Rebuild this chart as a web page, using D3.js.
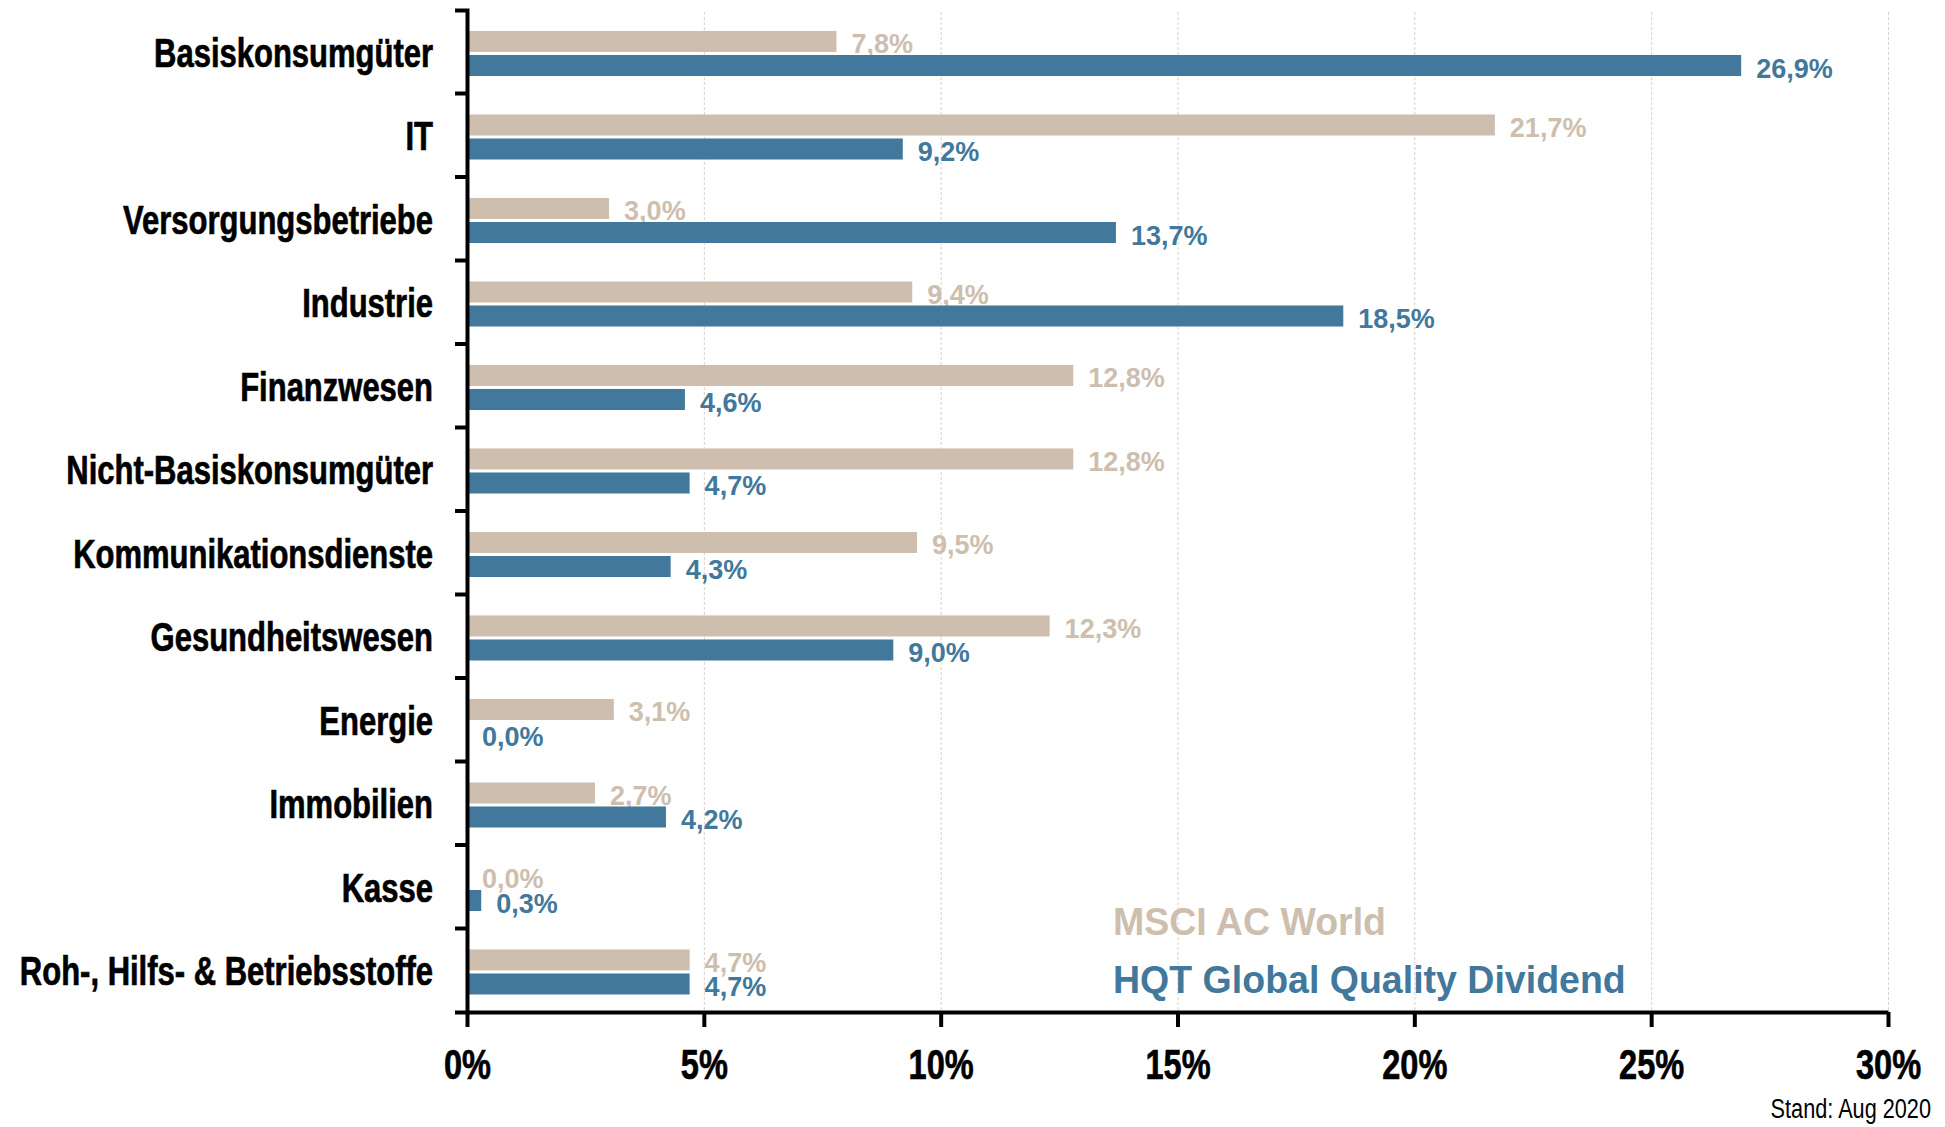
<!DOCTYPE html>
<html>
<head>
<meta charset="utf-8">
<script src="https://cdn.jsdelivr.net/npm/d3@7"></script>
<style>
    body { margin: 0; background: #fff; }
    svg { display: block; }
    text { font-family: 'Liberation Sans', Arial, sans-serif; }
</style>
</head>
<body>
<svg id="chart"></svg>
<script>
const categories = [
    'Basiskonsumgüter',
    'IT',
    'Versorgungsbetriebe',
    'Industrie',
    'Finanzwesen',
    'Nicht-Basiskonsumgüter',
    'Kommunikationsdienste',
    'Gesundheitswesen',
    'Energie',
    'Immobilien',
    'Kasse',
    'Roh-, Hilfs- & Betriebsstoffe'
];
const msciValues = [7.8, 21.7, 3.0, 9.4, 12.8, 12.8, 9.5, 12.3, 3.1, 2.7, 0.0, 4.7];
const hqtValues = [26.9, 9.2, 13.7, 18.5, 4.6, 4.7, 4.3, 9.0, 0.0, 4.2, 0.3, 4.7];
const seriesNames = ['MSCI AC World', 'HQT Global Quality Dividend'];
const xTicks = [0, 5, 10, 15, 20, 25, 30];
const footnote = 'Stand: Aug 2020';

const colors = { msci: '#cebeae', hqt: '#41789b', grid: '#dcd1c6', axis: '#000' };
const width = 1945;
const height = 1127;
const condensed = 0.775;

const svg = d3.select('#chart').attr('width', width).attr('height', height);

const x = d3.scaleLinear().domain([0, 30]).range([467, 1888]);
const y = d3.scaleBand().domain(categories).range([10, 1012]).padding(0);
const inner = d3.scaleBand().domain(['msci', 'hqt'])
    .range([0, y.bandwidth()])
    .paddingInner(0.125)
    .paddingOuter(0.8)
    .align(0.545);

const de = d3.formatLocale({ decimal: ',', thousands: '.', grouping: [3], currency: ['', '€'] });
const fmt = v => de.format('.1f')(v) + '%';

const rows = categories.map((c, i) => ({ cat: c, msci: msciValues[i], hqt: hqtValues[i] }));

// gridlines
svg.append('g')
    .selectAll('line')
    .data(xTicks.slice(1))
    .enter().append('line')
    .attr('x1', d => x(d) + 0.5)
    .attr('x2', d => x(d) + 0.5)
    .attr('y1', 12)
    .attr('y2', 1012)
    .style('stroke', colors.grid)
    .style('stroke-width', 1)
    .style('stroke-dasharray', '3,2');

// bars
['msci', 'hqt'].forEach(function (key) {
    svg.append('g')
        .selectAll('rect')
        .data(rows).enter().append('rect')
        .attr('x', x(0))
        .attr('y', d => y(d.cat) + inner(key))
        .attr('width', d => x(d[key]) - x(0))
        .attr('height', inner.bandwidth())
        .attr('fill', colors[key]);

    svg.append('g')
        .selectAll('text')
        .data(rows).enter().append('text')
        .attr('x', d => x(d[key]) + 15)
        .attr('y', d => y(d.cat) + inner(key) + inner.bandwidth() + 1.5)
        .style('font-size', '27px')
        .style('font-weight', 'bold')
        .style('fill', colors[key])
        .text(d => fmt(d[key]));
});

// y axis
const yAxis = svg.append('g')
    .attr('transform', 'translate(' + x(0) + ',0)')
    .call(d3.axisLeft(y).tickSizeInner(0).tickSizeOuter(12).tickPadding(0));

yAxis.select('.domain').style('stroke', colors.axis).style('stroke-width', 4);
yAxis.selectAll('.tick text')
    .attr('x', -34 / condensed)
    .attr('dy', '0.37em')
    .attr('transform', 'scale(' + condensed + ',1)')
    .style('font-family', "'Liberation Sans', Arial, sans-serif")
    .style('font-size', '40px')
    .style('font-weight', 'bold')
    .style('fill', '#000')
    .style('stroke', '#000')
    .style('stroke-width', 0.7);

yAxis.selectAll('.boundary')
    .data(categories.slice(1))
    .enter().append('line')
    .attr('class', 'boundary')
    .attr('x1', -12)
    .attr('x2', 0)
    .attr('y1', d => y(d))
    .attr('y2', d => y(d))
    .style('stroke', colors.axis)
    .style('stroke-width', 4);

// x axis
const xAxis = svg.append('g')
    .attr('transform', 'translate(0,1012)')
    .call(d3.axisBottom(x)
        .tickValues(xTicks)
        .tickFormat(d => d + '%')
        .tickSizeInner(15)
        .tickSizeOuter(0)
        .tickPadding(22));

xAxis.select('.domain').style('stroke', colors.axis).style('stroke-width', 4);
xAxis.selectAll('.tick line').style('stroke', colors.axis).style('stroke-width', 4);
xAxis.selectAll('.tick text')
    .attr('transform', 'scale(' + condensed + ',1)')
    .style('font-family', "'Liberation Sans', Arial, sans-serif")
    .style('font-size', '42px')
    .style('font-weight', 'bold')
    .style('fill', '#000')
    .style('stroke', '#000')
    .style('stroke-width', 0.7);

// legend
const legend = svg.append('g');
legend.selectAll('text')
    .data(seriesNames)
    .enter().append('text')
    .attr('transform', (d, i) => 'translate(1113,' + (935 + i * 58) + ') scale(0.95,1)')
    .style('font-size', '39.5px')
    .style('font-weight', 'bold')
    .style('fill', (d, i) => i === 0 ? colors.msci : colors.hqt)
    .text(d => d);

// footnote
svg.append('text')
    .attr('transform', 'translate(1931,1118) scale(' + condensed + ',1)')
    .attr('text-anchor', 'end')
    .style('font-size', '28px')
    .style('fill', '#000')
    .text(footnote);
</script>
</body>
</html>
